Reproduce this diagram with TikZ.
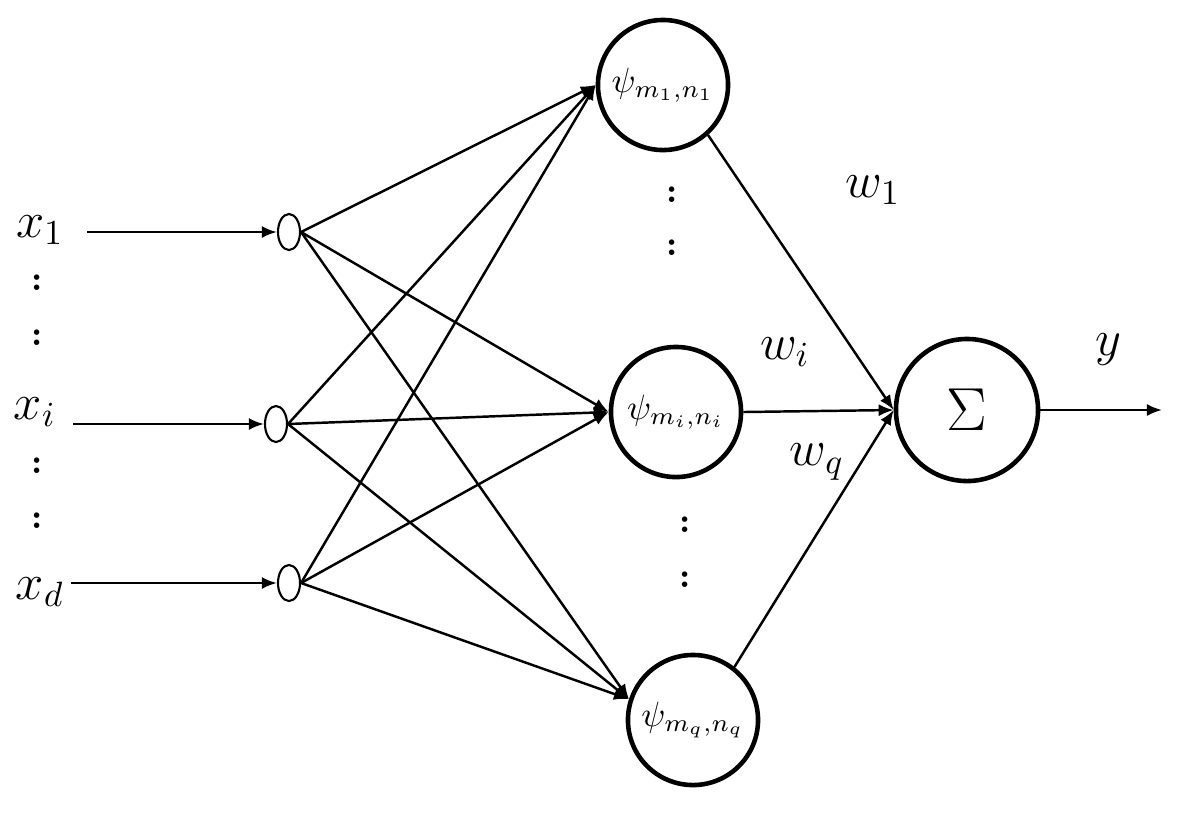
\documentclass[tikz,border=0pt]{standalone}
\usetikzlibrary{arrows.meta,shapes.geometric}
\newcommand{\dcolon}{{\normalsize\textbf{:}}}

\begin{document}
\begin{tikzpicture}[x=0.01cm,y=-0.01cm,>={Latex[length=1.5mm,width=1.2mm]},
   every node/.style={font=\Large},
   inpt/.style={ellipse,draw,line width=0.6pt,minimum width=0.22cm,minimum height=0.36cm,inner sep=0pt},
   unit/.style={circle,draw,line width=1.3pt,minimum size=1.3cm,inner sep=0pt,font=\normalsize},
   link/.style={->,line width=0.7pt}]
   \useasboundingbox (0,0) rectangle (1178,820);
   % inputs
   \node (x1) at (40,230) {$x_1$};
   \node (xi) at (35,412) {$x_i$};
   \node (xd) at (40,592) {$x_d$};
   \node (c1) at (37,283) {\dcolon};
   \node (c2) at (37,338) {\dcolon};
   \node (c3) at (37,466) {\dcolon};
   \node (c4) at (37,521) {\dcolon};
   \coordinate (s1) at (87,232);
   \coordinate (si) at (73,424);
   \coordinate (sd) at (71,583);
   \node[inpt] (e1) at (289,232) {};
   \node[inpt] (ei) at (276,424) {};
   \node[inpt] (ed) at (289,583) {};
   \draw[link] (s1) -- (e1);
   \draw[link] (si) -- (ei);
   \draw[link] (sd) -- (ed);
   % hidden units
   \node[unit] (h1) at (663,85) {$\psi_{m_1,n_1}$};
   \node[unit] (hi) at (676,412) {$\psi_{m_i,n_i}$};
   \node[unit] (hq) at (693,720) {$\psi_{m_q,n_q}$};
   \node (d1) at (672,195) {\dcolon};
   \node (d2) at (672,248) {\dcolon};
   \node (d3) at (685,525) {\dcolon};
   \node (d4) at (685,580) {\dcolon};
   \foreach \e in {e1,ei,ed} {
     \draw[link] (\e.east) -- (h1.west);
     \draw[link] (\e.east) -- (hi.west);
     \draw[link] (\e.east) -- (hq.162);
   }
   % output unit
   \node[unit,minimum size=1.42cm,font=\LARGE] (sum) at (967,410) {$\Sigma$};
   \draw[link] (h1.-48) -- (sum.west);
   \draw[link] (hi.east) -- (sum.west);
   \draw[link] (hq.52) -- (sum.west);
   \coordinate (out) at (1162,410);
   \draw[link] (sum.east) -- (out);
   \node (w1) at (873,190) {$w_1$};
   \node (wi) at (785,352) {$w_i$};
   \node (wq) at (817,462) {$w_q$};
   \node (y) at (1108,350) {$y$};
\end{tikzpicture}
\end{document}
